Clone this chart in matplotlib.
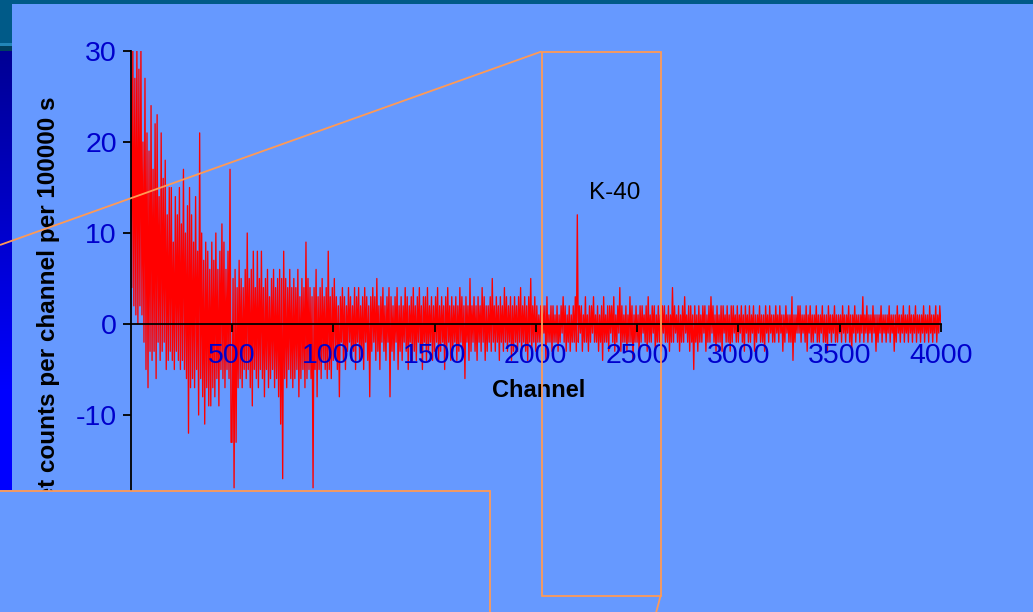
import numpy as np
import matplotlib
matplotlib.use("Agg")
import matplotlib.pyplot as plt
from matplotlib.patches import Rectangle

plt.rcParams['font.family'] = ['Liberation Sans', 'DejaVu Sans']
plt.rcParams['axes.unicode_minus'] = False

# net counts per channel (one reading every 5 channels, 0..4000)
counts_0000 = [
    27, 4, 31, 2, 27, 1, 31, 0, 28, 2, 31, 1, 20, -2, 27, -5, 21, -7, 19, -3,
    24, -4, 17, -3, 22, -6, 23, -2, 14, -4, 21, -3, 16, -2, 18, -5, 12, -4, 15, -3,
    15, -4, 9, -5, 14, -3, 12, -4, 15, -5, 11, -4, 17, -5, 10, -6, 13, -12, 15, -7,
    12, -6, 9, -7, 14, -5, 8, -10, 21, -6, 10, -8, 7, -11, 9, -7, 8, -9, 6, -9,
    9, -7, 7, -8, 10, -6, 6, -9, 8, -5, 11, -6, 9, -7, 6, -5, 8, -6, 17, -13,
]
counts_0500 = [
    -13, 5, -18, 6, -13, 4, -7, 7, -6, 5, -7, 4, -5, 6, -6, 10, -5, 5, -7, 6,
    -9, 8, -5, 4, -6, 8, -7, 5, -5, 8, -6, 4, -8, 5, -5, 6, -7, 3, -6, 5,
    -5, 6, -7, 4, -6, 5, -8, 6, -11, 5, -17, 8, -6, 5, -7, 4, -5, 6, -6, 4,
    -7, 5, -6, 4, -5, 6, -8, 3, -6, 5, -5, 4, -7, 9, -6, 5, -5, 4, -6, 3,
    -18, 4, -5, 6, -8, 3, -5, 4, -6, 5, -4, 3, -5, 4, -6, 8, -5, 3, -6, 4,
]
counts_1000 = [
    -4, 5, -3, 3, -5, 2, -8, 3, -2, 4, -4, 3, -5, 2, -3, 4, -2, 3, -4, 2,
    -3, 4, -5, 3, -2, 4, -4, 2, -3, 3, -5, 4, -2, 3, -4, 2, -8, 3, -3, 4,
    -2, 3, -4, 5, -3, 2, -5, 3, -2, 4, -3, 2, -4, 3, -2, 4, -8, 3, -3, 2,
    -4, 3, -2, 4, -5, 2, -3, 3, -4, 2, -2, 4, -3, 3, -5, 2, -2, 3, -4, 4,
    -3, 2, -4, 3, -2, 4, -3, 2, -5, 3, -2, 3, -4, 4, -3, 2, -2, 3, -4, 2,
]
counts_1500 = [
    -3, 3, -2, 4, -4, 2, -3, 3, -2, 2, -5, 3, -3, 4, -2, 2, -4, 3, -3, 2,
    -2, 3, -4, 2, -3, 4, -2, 3, -3, 2, -6, 3, -2, 2, -4, 5, -3, 2, -2, 3,
    -3, 2, -4, 3, -2, 2, -3, 4, -2, 3, -4, 2, -3, 2, -2, 3, -3, 5, -2, 2,
    -3, 3, -2, 2, -4, 3, -2, 2, -3, 4, -2, 3, -3, 2, -2, 3, -4, 2, -3, 3,
    -2, 2, -3, 3, -2, 4, -3, 2, -2, 3, -3, 2, -4, 3, -2, 5, -3, 2, -2, 3,
]
counts_2000 = [
    -3, 2, -2, 1, -2, 2, -3, 2, -1, 2, -4, 3, -2, 1, -2, 2, -3, 2, -2, 1,
    -2, 2, -3, 1, -2, 2, -1, 3, -2, 2, -3, 1, -2, 2, -3, 1, -2, 2, -2, 3,
    -3, 12, -2, 2, -1, 2, -3, 1, -2, 3, -2, 1, -3, 2, -2, 2, -1, 3, -2, 1,
    -2, 2, -3, 1, -2, 2, -4, 3, -2, 1, -2, 2, -3, 2, -1, 2, -2, 3, -3, 1,
    -2, 2, -1, 4, -3, 2, -2, 1, -2, 2, -3, 1, -2, 3, -2, 2, -4, 1, -2, 2,
]
counts_2500 = [
    -2, 1, -3, 2, -2, 2, -1, 1, -2, 2, -3, 3, -2, 1, -2, 2, -1, 2, -3, 1,
    -2, 2, -2, 1, -3, 2, -1, 2, -2, 1, -2, 2, -3, 1, -2, 4, -2, 2, -1, 1,
    -2, 2, -3, 1, -2, 2, -2, 3, -1, 1, -2, 2, -3, 2, -2, 1, -5, 2, -2, 1,
    -3, 2, -2, 1, -2, 2, -1, 2, -3, 1, -2, 2, -2, 3, -1, 2, -2, 1, -3, 2,
    -2, 1, -2, 2, -3, 2, -1, 1, -2, 2, -2, 1, -3, 2, -2, 2, -1, 1, -2, 2,
]
counts_3000 = [
    -2, 1, -1, 2, -2, 1, -3, 2, -1, 1, -2, 2, -2, 1, -1, 2, -3, 1, -2, 1,
    -1, 2, -2, 1, -2, 1, -3, 2, -1, 1, -2, 2, -1, 1, -2, 1, -2, 2, -1, 1,
    -2, 2, -1, 1, -3, 1, -2, 2, -1, 1, -2, 1, -2, 3, -4, 1, -2, 1, -1, 2,
    -1, 2, -2, 1, -1, 1, -2, 2, -3, 1, -1, 2, -2, 1, -2, 1, -1, 2, -2, 1,
    -2, 1, -1, 2, -2, 1, -2, 1, -3, 2, -1, 1, -2, 1, -1, 2, -2, 1, -2, 1,
]
counts_3500 = [
    -1, 1, -2, 2, -1, 1, -2, 1, -1, 2, -2, 1, -3, 1, -1, 2, -2, 1, -1, 1,
    -2, 1, -1, 3, -2, 1, -1, 2, -2, 1, -1, 1, -2, 2, -1, 1, -3, 1, -2, 1,
    -1, 2, -2, 1, -1, 1, -2, 1, -1, 2, -2, 1, -1, 1, -3, 1, -2, 2, -1, 1,
    -2, 1, -1, 2, -2, 1, -1, 1, -2, 2, -1, 1, -2, 1, -1, 2, -2, 1, -1, 1,
    -2, 1, -1, 2, -2, 1, -1, 1, -2, 2, -1, 1, -2, 1, -1, 2, -2, 1, -1, 2,
    0,
]

net_counts = (counts_0000 + counts_0500 + counts_1000 + counts_1500
              + counts_2000 + counts_2500 + counts_3000 + counts_3500)
channels = np.arange(len(net_counts)) * 5

x_ticks = [500, 1000, 1500, 2000, 2500, 3000, 3500, 4000]
y_ticks = [-20, -10, 0, 10, 20, 30]

W, H = 1033, 612
BG = '#6699FF'
ORANGE = '#FF9955'
TICK_BLUE = '#0000CC'

fig = plt.figure(figsize=(W / 100, H / 100), dpi=100, facecolor=BG)

# slide background: teal frame at top/left and blue side bar
bg = fig.add_axes([0, 0, 1, 1], zorder=0)
bg.set_xlim(0, W)
bg.set_ylim(H, 0)
bg.axis('off')
bg.add_patch(Rectangle((0, 0), W, 4, color='#005A88', lw=0))
bg.add_patch(Rectangle((0, 0), 12, 43, color='#005A88', lw=0))
bg.add_patch(Rectangle((0, 43), 12, 2.5, color='#2286B8', lw=0))
bg.add_patch(Rectangle((0, 45.5), 12, 5, color='#00405F', lw=0))
grad = np.linspace(0, 1, 256).reshape(-1, 1)
side = np.zeros((256, 1, 3))
side[:, 0, 2] = 0.58 + 0.42 * np.clip(grad[:, 0] * 1.3, 0, 1)
bg.imshow(side, extent=(0, 12, 490, 50.5), aspect='auto', interpolation='bilinear')
bg.set_xlim(0, W)
bg.set_ylim(H, 0)

# spectrum
ax = fig.add_axes([130.8 / W, 1 - 506 / H, 810 / W, 455 / H], zorder=1)
ax.patch.set_alpha(0)
ax.set_axisbelow(False)
ax.plot(channels, net_counts, color='#FF0000', lw=0.95)
ax.set_xlim(0, 4000)
ax.set_ylim(-20, 30)
ax.spines['top'].set_visible(False)
ax.spines['right'].set_visible(False)
ax.spines['bottom'].set_position(('data', 0))
for s in ('left', 'bottom'):
    ax.spines[s].set_linewidth(1.3)
ax.set_xticks(x_ticks)
ax.set_yticks(y_ticks)
ax.tick_params(axis='both', colors='black', labelcolor=TICK_BLUE, labelsize=20.5, width=1.3)
ax.tick_params(axis='x', length=6, pad=8)
ax.tick_params(axis='y', length=6, pad=4)

ax.set_xlabel('Channel', fontsize=17, fontweight='bold')
ax.xaxis.set_label_coords(0.503, 0.279)
ax.set_ylabel('Net counts per channel per 100000 s', fontsize=17.5, fontweight='bold')
ax.yaxis.set_label_coords(-0.087, 0.436)
ax.text(2263, 13.7, 'K-40', fontsize=17.5, ha='left', va='baseline')

# zoom-in callout frames drawn over the chart
ov = fig.add_axes([0, 0, 1, 1], zorder=5)
ov.set_xlim(0, W)
ov.set_ylim(H, 0)
ov.axis('off')
ov.patch.set_alpha(0)
ov.plot([0, 541.5], [245, 51.5], color=ORANGE, lw=1.3, solid_capstyle='butt')
ov.add_patch(Rectangle((541.5, 51.5), 119, 544.5, fill=False, ec=ORANGE, lw=1.3))
ov.plot([660.5, 656], [596, 613], color=ORANGE, lw=1.3)
ov.add_patch(Rectangle((-5, 490.5), 494.5, 130, fc=BG, ec=ORANGE, lw=1.3))

fig.savefig('out.png', dpi=100, facecolor=BG)
